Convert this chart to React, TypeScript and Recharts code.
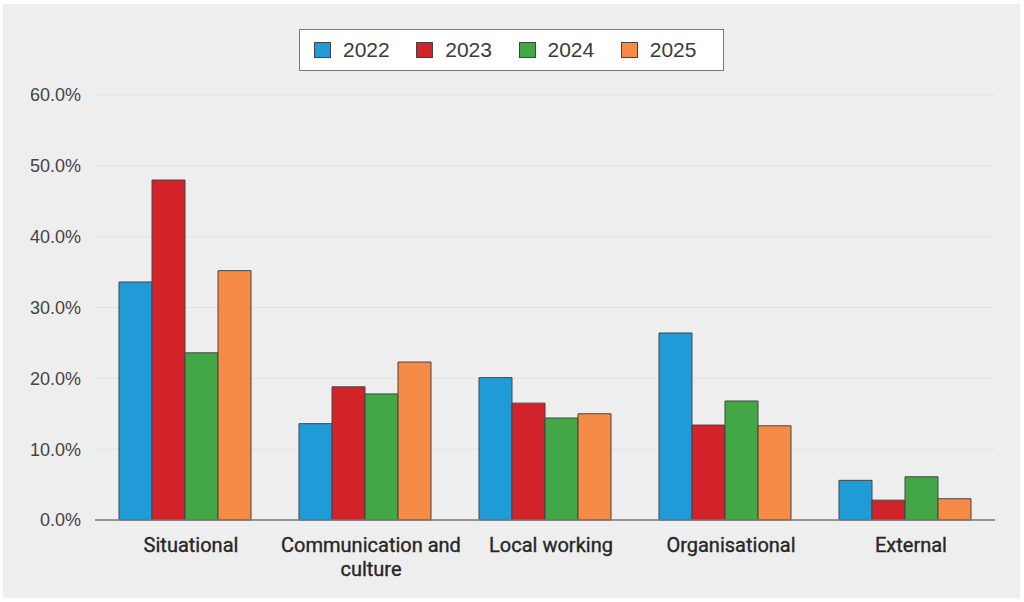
import React from 'react';
import {
  BarChart,
  Bar,
  XAxis,
  YAxis,
  CartesianGrid,
} from 'recharts';

// Share of responses by category, per survey year (%)
const CATEGORIES = [
  'Situational',
  'Communication and\nculture',
  'Local working',
  'Organisational',
  'External',
];
const YEARS = ['2022', '2023', '2024', '2025'];
const V_2022 = [33.6, 13.6, 20.1, 26.4, 5.6];
const V_2023 = [48.0, 18.8, 16.5, 13.4, 2.8];
const V_2024 = [23.6, 17.8, 14.4, 16.8, 6.1];
const V_2025 = [35.2, 22.3, 15.0, 13.3, 3.0];
const Y_TICKS = [0, 10, 20, 30, 40, 50, 60];

const COLORS = ['#1f9bd7', '#d2232a', '#43a748', '#f68b47'];
const SERIES = [V_2022, V_2023, V_2024, V_2025];

const data = CATEGORIES.map((name, i) => {
  const row: Record<string, string | number> = { name };
  YEARS.forEach((y, s) => {
    row[y] = SERIES[s][i];
  });
  return row;
});

const FONT = '"Liberation Sans", Arial, Helvetica, sans-serif';

const CategoryTick = (props: any) => {
  const { x, y, payload } = props;
  const lines = String(payload.value).split('\n');
  const cx = x + 6;
  return (
    <text
      x={cx}
      y={y}
      textAnchor="middle"
      fill="#262626"
      stroke="#262626"
      strokeWidth={0.35}
      fontSize={20}
      fontWeight={400}
      fontFamily='Roboto, "Liberation Sans", sans-serif'
    >
      {lines.map((l, i) => (
        <tspan key={i} x={cx} dy={i === 0 ? 32 : 24}>
          {l}
        </tspan>
      ))}
    </text>
  );
};

// Boxed legend above the plot
const LegendBox = () => (
  <div
    style={{
      position: 'absolute',
      left: 299,
      top: 29,
      display: 'flex',
      alignItems: 'center',
      boxSizing: 'border-box',
      width: 425,
      height: 42,
      padding: '0 0 0 14px',
      background: '#ffffff',
      border: '1px solid #7a7a7a',
      fontFamily: FONT,
      fontSize: 21,
      color: '#3a3a3a',
    }}
  >
    {YEARS.map((y, i) => (
      <div key={y} style={{ display: 'flex', alignItems: 'center', width: 106 }}>
        <span
          style={{
            display: 'inline-block',
            width: 17,
            height: 16,
            boxSizing: 'border-box',
            background: COLORS[i],
            border: '1px solid #444',
            marginRight: 12,
          }}
        />
        <span>{y}</span>
      </div>
    ))}
  </div>
);

export default function App() {
  return (
    <div
      style={{
        position: 'absolute',
        left: 0,
        top: 0,
        width: 1024,
        height: 602,
        background: '#ffffff',
      }}
    >
      <div
        style={{
          position: 'absolute',
          left: 3,
          top: 4,
          width: 1017,
          height: 594,
          background: '#eeeeee',
        }}
      />
      <div style={{ position: 'absolute', left: 0, top: 0 }}>
        <BarChart
          width={1024}
          height={602}
          data={data}
          margin={{ top: 95, right: 29, bottom: 22, left: 15 }}
          barGap={0}
          barCategoryGap={24}
        >
          <CartesianGrid vertical={false} stroke="#e2e2e2" strokeWidth={1} />
          <XAxis
            dataKey="name"
            height={60}
            tickLine={false}
            tickSize={0}
            tickMargin={0}
            axisLine={{ stroke: '#7a7a7a', strokeWidth: 1.5 }}
            tick={<CategoryTick />}
            interval={0}
          />
          <YAxis
            width={80}
            domain={[0, 60]}
            ticks={Y_TICKS}
            axisLine={false}
            tickLine={false}
            tickMargin={8}
            tick={{ fontSize: 18, fill: '#444', fontFamily: FONT }}
            tickFormatter={(v: number) => `${v.toFixed(1)}%`}
          />
          {YEARS.map((y, i) => (
            <Bar
              key={y}
              dataKey={y}
              fill={COLORS[i]}
              stroke="#444"
              strokeWidth={1}
              isAnimationActive={false}
            />
          ))}
        </BarChart>
      </div>
      <LegendBox />
    </div>
  );
}
